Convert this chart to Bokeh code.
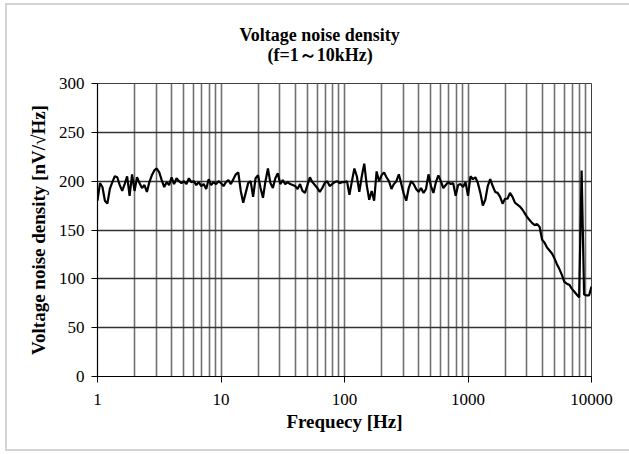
from bokeh.plotting import figure
from bokeh.models import Title, FixedTicker, NumeralTickFormatter
from bokeh.embed import file_html
from bokeh.resources import INLINE

# ---------------- data ----------------
title_lines = ["Voltage noise density", "(f=1～10kHz)"]
x_label = "Frequecy [Hz]"
y_label = "Voltage noise density [nV/√Hz]"
x_major = [1, 10, 100, 1000, 10000]
x_minor = [m * d for d in [1, 10, 100, 1000] for m in range(2, 10)]
y_ticks = [0, 50, 100, 150, 200, 250, 300]

# frequency points: 50 per decade, 1 Hz .. 10 kHz
freq = [10 ** (k / 50) for k in range(201)]

noise_1_10 = [180, 198, 194, 180, 177, 192, 199, 205, 204, 196,
              190, 197, 205, 185, 207, 190, 204, 198, 193, 196,
              189, 199, 206, 211, 213, 209, 201, 194, 199, 196,
              204, 197, 203, 200, 198, 200, 197, 203, 199, 200,
              196, 199, 195, 197, 192, 202, 196, 199, 197, 200]
noise_10_100 = [198, 195, 199, 201, 197, 202, 207, 209, 190, 178,
                188, 198, 200, 184, 203, 206, 193, 183, 200, 213,
                198, 193, 203, 208, 197, 201, 197, 199, 197, 196,
                195, 192, 197, 190, 188, 196, 204, 199, 196, 193,
                189, 193, 198, 200, 195, 197, 199, 200, 198, 199]
noise_100_1k = [199, 200, 186, 200, 213, 205, 189, 205, 218, 196,
                181, 190, 180, 210, 200, 206, 209, 204, 200, 192,
                197, 200, 207, 197, 187, 180, 193, 200, 197, 192,
                189, 193, 188, 192, 207, 195, 188, 199, 206, 200,
                193, 196, 199, 197, 198, 185, 196, 197, 194, 199]
noise_1k_10k = [185, 205, 202, 204, 198, 188, 175, 181, 195, 202,
                195, 189, 188, 184, 177, 182, 182, 188, 184, 178,
                176, 174, 171, 167, 163, 160, 157, 155, 156, 153,
                140, 137, 132, 129, 126, 121, 115, 110, 104, 97,
                95, 94, 90, 87, 84, 81, 211, 84, 83, 83,
                92]
noise = noise_1_10 + noise_10_100 + noise_100_1k + noise_1k_10k

# ---------------- figure ----------------
SERIF = "Liberation Serif"

p = figure(width=622, height=444, x_axis_type="log",
           x_range=(1, 10000), y_range=(0, 300),
           output_backend="svg", toolbar_location=None,
           title_location=None,
           min_border_left=90, min_border_right=38,
           min_border_top=78, min_border_bottom=73)
p.styles = {"margin-left": "7px", "margin-top": "5px",
            "outline": "2px solid #d4d4d4"}
p.background_fill_color = "white"
p.border_fill_color = "white"
p.outline_line_color = "#404040"
p.outline_line_width = 1

p.line(freq, noise, line_color="black", line_width=2.2)

# axes
p.xaxis.ticker = FixedTicker(ticks=x_major, minor_ticks=x_minor)
p.xaxis.formatter = NumeralTickFormatter(format="0")
p.yaxis.ticker = FixedTicker(ticks=y_ticks)

for ax in (p.xaxis[0], p.yaxis[0]):
    ax.axis_line_color = "black"
    ax.axis_line_width = 1.2
    ax.major_tick_line_color = "black"
    ax.major_tick_in = 0
    ax.major_tick_out = 6
    ax.minor_tick_in = 0
    ax.minor_tick_out = 0
    ax.major_label_text_font = SERIF
    ax.major_label_text_font_size = "17px"
    ax.major_label_text_color = "black"
    ax.axis_label_text_font = SERIF
    ax.axis_label_text_font_size = "19px"
    ax.axis_label_text_font_style = "bold"
    ax.axis_label_text_color = "black"

p.xaxis.axis_label = x_label
p.yaxis.axis_label = y_label
p.xaxis.major_label_standoff = 11
p.yaxis.major_label_standoff = 7
p.xaxis.axis_label_standoff = 3
p.yaxis.axis_label_standoff = 7

# grids
p.xgrid.grid_line_color = "#707070"
p.xgrid.grid_line_width = 1.6
p.xgrid.minor_grid_line_color = "#707070"
p.xgrid.minor_grid_line_width = 1.6
p.ygrid.grid_line_color = "#333333"
p.ygrid.grid_line_width = 1.4

# titles: second line added first (closest to the frame)
p.add_layout(Title(text=title_lines[1], align="left", offset=170, standoff=37,
                   text_font=SERIF, text_font_size="18px", text_font_style="bold",
                   text_color="black"), "above")
p.add_layout(Title(text=title_lines[0], align="left", offset=142, standoff=-40,
                   text_font=SERIF, text_font_size="18px", text_font_style="bold",
                   text_color="black"), "above")

open("out.html", "w").write(file_html(p, INLINE))
